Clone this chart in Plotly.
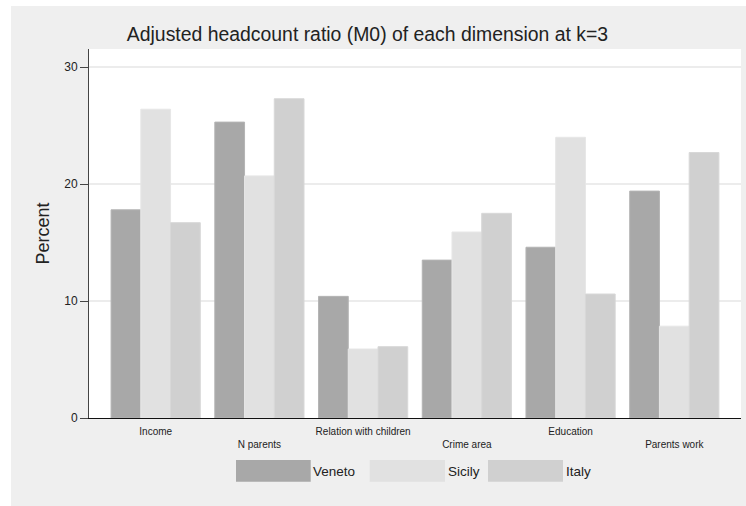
import plotly.graph_objects as go

categories = ["Income", "N parents", "Relation with children", "Crime area", "Education", "Parents work"]
tick_labels = ["Income", "\u00a0<br>N parents", "Relation with children", "\u00a0<br>Crime area", "Education", "\u00a0<br>Parents work"]
veneto = [17.8, 25.3, 10.4, 13.5, 14.6, 19.4]
sicily = [26.4, 20.7, 5.9, 15.9, 24.0, 7.85]
italy = [16.7, 27.3, 6.1, 17.5, 10.6, 22.7]
series_names = ["Veneto", "Sicily", "Italy"]
series_values = [veneto, sicily, italy]
colors = ["#a8a8a8", "#e1e1e1", "#d0d0d0"]
edge_colors = ["#b4b4b4", "#e6e6e6", "#d8d8d8"]
y_ticks = [0, 10, 20, 30]

W, H = 746, 506
L, R, T, B = 89, 741, 49, 418


def px_x(x):
    return (x - L) / (R - L)


def px_y(y):
    return (B - y) / (B - T)


FONT = "Arial, Liberation Sans, sans-serif"

fig = go.Figure()
for name, vals, c, ec in zip(series_names, series_values, colors, edge_colors):
    fig.add_trace(go.Bar(x=categories, y=vals, name=name,
                         marker=dict(color=c, line=dict(color=ec, width=1)),
                         showlegend=False))

shapes = [
    dict(type="rect", xref="paper", yref="paper", x0=px_x(0), x1=px_x(11), y0=px_y(H), y1=px_y(0),
         fillcolor="white", line=dict(width=0)),
    dict(type="rect", xref="paper", yref="paper", x0=px_x(0), x1=px_x(W), y0=px_y(6), y1=px_y(0),
         fillcolor="white", line=dict(width=0)),
]
annotations = []
swatch_x = [(236, 310.7), (369.7, 445), (488, 563)]
for (a, b), c, name in zip(swatch_x, colors, series_names):
    shapes.append(dict(type="rect", xref="paper", yref="paper", x0=px_x(a), x1=px_x(b),
                       y0=px_y(481.7), y1=px_y(460), fillcolor=c, line=dict(width=0)))
    annotations.append(dict(xref="paper", yref="paper", x=px_x(b + 0.5), y=px_y(471),
                            xanchor="left", yanchor="middle", text=name, showarrow=False,
                            font=dict(family=FONT, size=13.5, color="#222")))

fig.update_layout(
    width=W, height=H,
    margin=dict(l=L, r=W - R, t=T, b=H - B, pad=0),
    paper_bgcolor="#efefef", plot_bgcolor="white",
    barmode="group", bargap=0.14, bargroupgap=0,
    title=dict(text="Adjusted headcount ratio (M0) of each dimension at k=3",
               x=367.5 / W, xref="container", xanchor="center",
               y=1 - 34 / H, yref="container", yanchor="middle",
               font=dict(family=FONT, size=19.4, color="#222")),
    font=dict(family=FONT, color="#222"),
    shapes=shapes, annotations=annotations,
    showlegend=False,
)
fig.update_xaxes(type="category", range=[-0.643, 5.643], tickmode="array",
                 tickvals=categories, ticktext=tick_labels, ticks="", showgrid=False,
                 showline=True, linecolor="#111", linewidth=1,
                 tickfont=dict(family=FONT, size=10, color="#222"), tickangle=0,
                 ticklabelstandoff=4)
fig.update_yaxes(range=[0, 31.55], tickvals=y_ticks, ticks="outside", ticklen=8,
                 tickcolor="#444", tickwidth=1, showline=True, linecolor="#444", linewidth=1,
                 showgrid=True, gridcolor="#ececec", gridwidth=1.5, zeroline=False,
                 tickfont=dict(family=FONT, size=12, color="#222"),
                 title=dict(text="Percent", font=dict(family=FONT, size=18, color="#222"), standoff=9))

fig.write_html("out.html", config={"displayModeBar": False},
               post_script="document.body.style.margin='0';document.body.style.padding='0';")
